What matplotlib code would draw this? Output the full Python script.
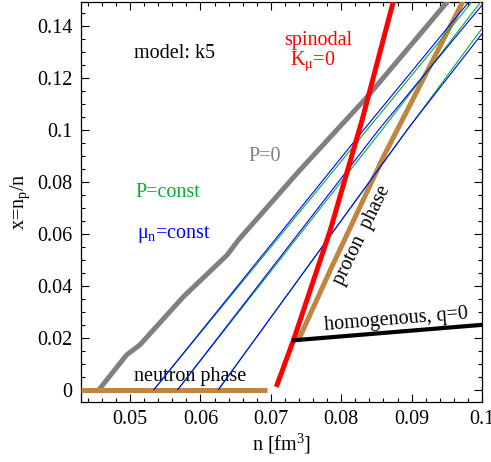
import matplotlib
matplotlib.use("Agg")
import matplotlib.pyplot as plt
from matplotlib.ticker import MultipleLocator, FuncFormatter

# P = 0 curve
p0_n = [0.0456, 0.0495, 0.0514, 0.0576, 0.0638, 0.0654, 0.0739, 0.0837, 0.0953]
p0_x = [0.0, 0.0133, 0.0172, 0.0358, 0.0518, 0.0576, 0.0838, 0.1127, 0.1500]

# spinodal K_mu = 0
sp_n = [0.07077, 0.07323, 0.07845, 0.08296, 0.08746]
sp_x = [0.0010, 0.0191, 0.0614, 0.1037, 0.1500]

# proton phase boundary
pp_n = [0.07394, 0.07845, 0.0860, 0.0974]
pp_x = [0.0191, 0.0460, 0.0896, 0.1500]

# neutron phase boundary
np_n = [0.0430, 0.0695]
np_x = [0.0, 0.0]

# homogeneous, q = 0
hq_n = [0.0730, 0.1000]
hq_x = [0.0189, 0.0249]

# mu_n = const lines
mu_lines = [
    ([0.0534, 0.08319, 0.09836], [0.0, 0.100, 0.150]),
    ([0.05678, 0.08532, 0.1000], [0.0, 0.100, 0.148]),
    ([0.06256, 0.08936, 0.1000], [0.0, 0.100, 0.137]),
]
# P = const lines
pc_lines = [
    ([0.0534, 0.08367, 0.09879], [0.0, 0.100, 0.150]),
    ([0.05678, 0.0858, 0.0999], [0.0, 0.100, 0.1495]),
    ([0.06256, 0.0894, 0.1000], [0.0, 0.100, 0.139]),
]

x_ticks = [0.05, 0.06, 0.07, 0.08, 0.09, 0.1]
y_ticks = [0, 0.02, 0.04, 0.06, 0.08, 0.1, 0.12, 0.14]

serif = "Liberation Serif"
plt.rcParams["font.family"] = [serif, "DejaVu Serif"]
plt.rcParams["mathtext.fontset"] = "custom"
plt.rcParams["mathtext.rm"] = serif
plt.rcParams["mathtext.it"] = serif
fs = 14.5

fig = plt.figure(figsize=(4.91, 4.62), dpi=100)
ax = fig.add_axes([0.165, 0.1299, 0.8167, 0.8658])

brown = "#c0853f"
green = "#00b030"

ax.plot(p0_n, p0_x, color="#808080", lw=3.6, solid_capstyle="butt", zorder=3)
for n, x in pc_lines:
    ax.plot(n, x, color=green, lw=0.8, zorder=4)
for n, x in mu_lines:
    ax.plot(n, x, color="#0000ff", lw=0.8, zorder=4)
ax.plot(np_n, np_x, color=brown, lw=3.6, solid_capstyle="butt", zorder=3, clip_on=False)
ax.plot(pp_n, pp_x, color=brown, lw=3.6, solid_capstyle="butt", zorder=3)
ax.plot(sp_n, sp_x, color="#ff0000", lw=3.6, solid_capstyle="butt", zorder=5)
ax.plot(hq_n, hq_x, color="black", lw=3.0, solid_capstyle="butt", zorder=5)

ax.set_xlim(0.04303, 0.1)
ax.set_ylim(-0.0048, 0.1492)

ax.xaxis.set_minor_locator(MultipleLocator(0.002))
ax.yaxis.set_minor_locator(MultipleLocator(0.005))
ax.set_xticks(x_ticks)
ax.set_yticks(y_ticks)

def fmt(v, pos):
    if abs(v) < 1e-12:
        return "0"
    return ("%.2f" % v).rstrip("0")

ax.xaxis.set_major_formatter(FuncFormatter(fmt))
ax.yaxis.set_major_formatter(FuncFormatter(fmt))
ax.tick_params(which="both", direction="in", top=True, right=True, width=0.8,
               labelsize=fs, pad=6)
ax.tick_params(which="major", length=6)
ax.tick_params(which="minor", length=3)
for s in ax.spines.values():
    s.set_linewidth(0.9)

ax.set_xlabel(r"n [fm$^3$]", fontsize=fs, labelpad=2)
ax.set_ylabel(r"x=n$_{\rm p}$/n", fontsize=fs, labelpad=4)

ax.text(0.0563, 0.1295, "model: k5", fontsize=fs, ha="center", va="center")
ax.text(0.0767, 0.1345, "spinodal", fontsize=fs, color="#ff0000", ha="center", va="center")
ax.text(0.0759, 0.1262, r"K$_{\rm \mu}$=0", fontsize=fs, color="#ff0000", ha="center", va="center")
ax.text(0.0691, 0.0898, "P=0", fontsize=fs, color="#808080", ha="center", va="center")
ax.text(0.0553, 0.0757, "P=const", fontsize=fs, color=green, ha="center", va="center")
ax.text(0.0562, 0.0595, r"$\mu_{\rm n}$=const", fontsize=fs, color="#0000ff", ha="center", va="center")
ax.text(0.0586, 0.0050, "neutron phase", fontsize=fs, ha="center", va="center")
ax.text(0.0878, 0.0270, "homogenous, q=0", fontsize=fs, ha="center", va="center", rotation=4.6)
ax.text(0.0830, 0.0595, "proton  phase", fontsize=fs, ha="center", va="center", rotation=64)

fig.savefig("out.png", dpi=100)
